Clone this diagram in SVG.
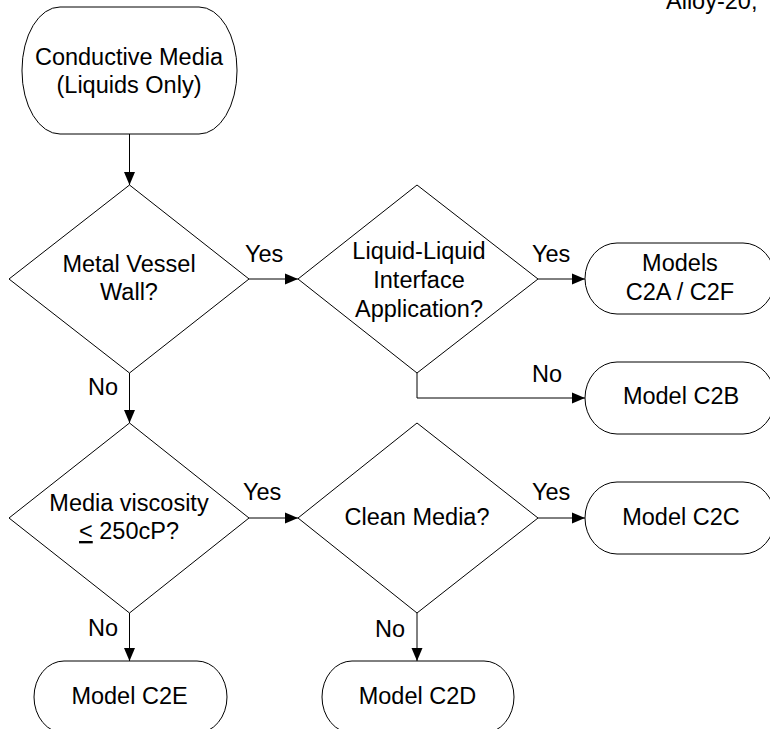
<svg xmlns="http://www.w3.org/2000/svg" width="770" height="729" viewBox="0 0 770 729">
<style>
  .shape { fill: #ffffff; stroke: #000000; stroke-width: 1; }
  .conn { fill: none; stroke: #000000; stroke-width: 1; }
  text { font-family: "Liberation Sans", Arial, sans-serif; font-size: 23.5px; fill: #000000; }
  .c { text-anchor: middle; }
</style>
<defs>
  <marker id="arrow" markerUnits="userSpaceOnUse" markerWidth="14" markerHeight="12" refX="13" refY="6" orient="auto">
    <path d="M0,0.5 L13,6 L0,11.5 Z" fill="#000000"/>
  </marker>
</defs>
<rect width="770" height="729" fill="#ffffff"/>

<text x="666" y="9">Alloy-20,</text>

<g id="connectors">
  <line class="conn" x1="129.5" y1="134" x2="129.5" y2="185" marker-end="url(#arrow)"/>
  <line class="conn" x1="249" y1="279" x2="298" y2="279" marker-end="url(#arrow)"/>
  <line class="conn" x1="538" y1="279" x2="585" y2="279" marker-end="url(#arrow)"/>
  <polyline class="conn" points="417,373 417,398 585,398" marker-end="url(#arrow)"/>
  <line class="conn" x1="129.5" y1="373" x2="129.5" y2="423" marker-end="url(#arrow)"/>
  <line class="conn" x1="249" y1="518" x2="298" y2="518" marker-end="url(#arrow)"/>
  <line class="conn" x1="538" y1="518" x2="585" y2="518" marker-end="url(#arrow)"/>
  <line class="conn" x1="417" y1="613" x2="417" y2="661" marker-end="url(#arrow)"/>
  <line class="conn" x1="129.5" y1="613" x2="129.5" y2="661" marker-end="url(#arrow)"/>
  <text x="245" y="262">Yes</text>
  <text x="532" y="262">Yes</text>
  <text x="532" y="382">No</text>
  <text x="88" y="395">No</text>
  <text x="243" y="500">Yes</text>
  <text x="532" y="500">Yes</text>
  <text x="88" y="636">No</text>
  <text x="375" y="637">No</text>
</g>

<g id="start">
  <rect class="shape" x="22" y="7" width="215" height="127" rx="38" ry="63"/>
  <text class="c" x="129" y="65">Conductive Media</text>
  <text class="c" x="129" y="93">(Liquids Only)</text>
</g>

<g id="metal-vessel">
  <polygon class="shape" points="129.5,185 249,279 129.5,373 9,279"/>
  <text class="c" x="129" y="272">Metal Vessel</text>
  <text class="c" x="129" y="300">Wall?</text>
</g>

<g id="liquid-interface">
  <polygon class="shape" points="417,185 538,279 417,373 298,279"/>
  <text class="c" x="419" y="259">Liquid-Liquid</text>
  <text class="c" x="419" y="288">Interface</text>
  <text class="c" x="419" y="317">Application?</text>
</g>

<g id="models-c2a-c2f">
  <rect class="shape" x="585" y="243" width="190" height="71" rx="32" ry="35.5"/>
  <text class="c" x="680" y="271">Models</text>
  <text class="c" x="680" y="300">C2A / C2F</text>
</g>

<g id="model-c2b">
  <rect class="shape" x="585" y="362" width="190" height="72" rx="32" ry="36"/>
  <text class="c" x="681" y="404">Model C2B</text>
</g>

<g id="viscosity">
  <polygon class="shape" points="129.5,423 249,518 129.5,613 9,518"/>
  <text class="c" x="129" y="511">Media viscosity</text>
  <text class="c" x="129" y="539"><tspan text-decoration="underline">&lt;</tspan> 250cP?</text>
</g>

<g id="clean-media">
  <polygon class="shape" points="417,423 538,518 417,613 298,518"/>
  <text class="c" x="417" y="525">Clean Media?</text>
</g>

<g id="model-c2c">
  <rect class="shape" x="585" y="482" width="190" height="72" rx="32" ry="36"/>
  <text class="c" x="681" y="525">Model C2C</text>
</g>

<g id="model-c2e">
  <rect class="shape" x="34" y="661" width="193" height="72" rx="30" ry="36"/>
  <text class="c" x="129.5" y="704">Model C2E</text>
</g>

<g id="model-c2d">
  <rect class="shape" x="322" y="661" width="192" height="72" rx="30" ry="36"/>
  <text class="c" x="417.5" y="704">Model C2D</text>
</g>
</svg>
